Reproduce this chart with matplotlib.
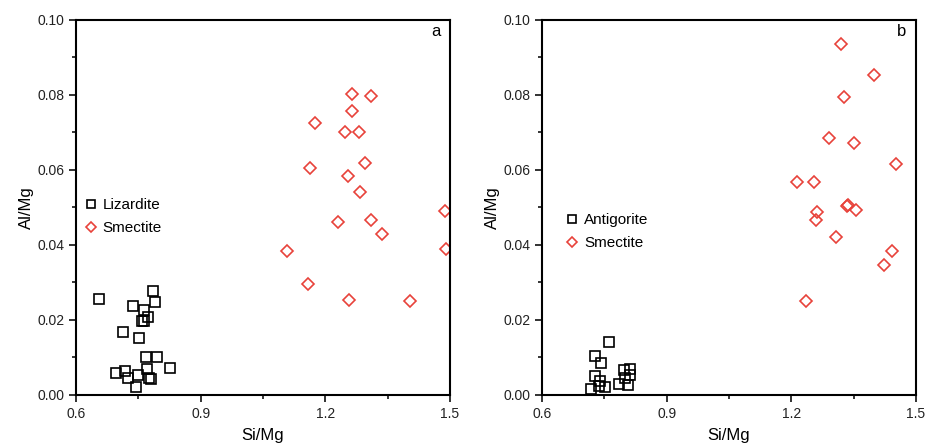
import matplotlib
matplotlib.use('Agg')
import matplotlib.pyplot as plt
from matplotlib.ticker import MultipleLocator

# panel a: lizardite and smectite compositions
liz_si = [0.656, 0.785, 0.790, 0.737, 0.763, 0.774, 0.758, 0.763, 0.714, 0.752,
          0.768, 0.794, 0.827, 0.696, 0.719, 0.772, 0.726, 0.750, 0.775, 0.781, 0.744]
liz_al = [0.0256, 0.0277, 0.0249, 0.0238, 0.0227, 0.0208, 0.0197, 0.0198, 0.0169, 0.0152,
          0.0102, 0.0100, 0.0073, 0.0058, 0.0065, 0.0068, 0.0044, 0.0052, 0.0046, 0.0042, 0.0022]
sme_a_si = [1.264, 1.310, 1.264, 1.174, 1.248, 1.282, 1.296, 1.164, 1.254, 1.283,
            1.488, 1.231, 1.310, 1.336, 1.107, 1.491, 1.158, 1.258, 1.403]
sme_a_al = [0.0803, 0.0796, 0.0756, 0.0726, 0.0701, 0.0702, 0.0618, 0.0605, 0.0584, 0.0541,
            0.0491, 0.0460, 0.0467, 0.0429, 0.0385, 0.0389, 0.0296, 0.0253, 0.0251]

# panel b: antigorite and smectite compositions
ant_si = [0.761, 0.728, 0.742, 0.728, 0.718, 0.737, 0.752, 0.740, 0.785, 0.798,
          0.813, 0.800, 0.813, 0.806]
ant_al = [0.0140, 0.0105, 0.0086, 0.0051, 0.0015, 0.0024, 0.0022, 0.0037, 0.0029, 0.0067,
          0.0070, 0.0046, 0.0053, 0.0027]
sme_b_si = [1.319, 1.398, 1.327, 1.290, 1.352, 1.453, 1.213, 1.254, 1.263, 1.260,
            1.333, 1.356, 1.336, 1.307, 1.443, 1.423, 1.236]
sme_b_al = [0.0937, 0.0852, 0.0794, 0.0684, 0.0673, 0.0616, 0.0567, 0.0569, 0.0488, 0.0467,
            0.0504, 0.0493, 0.0506, 0.0422, 0.0384, 0.0346, 0.0251]

plt.rcParams['font.family'] = ['Liberation Sans', 'DejaVu Sans']

fig = plt.figure(figsize=(9.28, 4.43), dpi=100)
ax_a = fig.add_axes([0.0819, 0.1084, 0.403, 0.8465])
ax_b = fig.add_axes([0.584, 0.1084, 0.403, 0.8465])

red = '#e8423a'

def style_axes(ax, letter):
    ax.set_xlim(0.6, 1.5)
    ax.set_ylim(0.0, 0.10)
    ax.xaxis.set_major_locator(MultipleLocator(0.3))
    ax.xaxis.set_minor_locator(MultipleLocator(0.15))
    ax.yaxis.set_major_locator(MultipleLocator(0.02))
    ax.yaxis.set_minor_locator(MultipleLocator(0.01))
    ax.xaxis.set_major_formatter(plt.FuncFormatter(lambda v, p: f'{v:.1f}'))
    ax.yaxis.set_major_formatter(plt.FuncFormatter(lambda v, p: f'{v:.2f}'))
    ax.tick_params(which='major', direction='out', length=5, width=1.3, labelsize=10, colors='#222222')
    ax.tick_params(which='minor', direction='out', length=3, width=1.1)
    for s in ax.spines.values():
        s.set_linewidth(1.5)
    ax.set_xlabel('Si/Mg', fontsize=12, labelpad=5)
    ax.set_ylabel('Al/Mg', fontsize=12, labelpad=2)
    ax.text(0.975, 0.99, letter, transform=ax.transAxes, ha='right', va='top', fontsize=12)

ax_a.plot(liz_si, liz_al, 's', ms=7, mfc='none', mec='black', mew=1.2, ls='none', label='Lizardite')
ax_a.plot(sme_a_si, sme_a_al, 'D', ms=6.5, mfc='none', mec=red, mew=1.2, ls='none', label='Smectite')
style_axes(ax_a, 'a')
ax_a.legend(loc='upper left', bbox_to_anchor=(0.0, 0.547), frameon=False, fontsize=11,
            handletextpad=0.4, borderaxespad=0.15, labelspacing=0.6, handlelength=0.8,
            markerscale=0.85)

ax_b.plot(ant_si, ant_al, 's', ms=7, mfc='none', mec='black', mew=1.2, ls='none', label='Antigorite')
ax_b.plot(sme_b_si, sme_b_al, 'D', ms=6.5, mfc='none', mec=red, mew=1.2, ls='none', label='Smectite')
style_axes(ax_b, 'b')
ax_b.legend(loc='upper left', bbox_to_anchor=(0.041, 0.507), frameon=False, fontsize=11,
            handletextpad=0.4, borderaxespad=0.15, labelspacing=0.6, handlelength=0.8,
            markerscale=0.85)

fig.savefig('out.png', dpi=100)
